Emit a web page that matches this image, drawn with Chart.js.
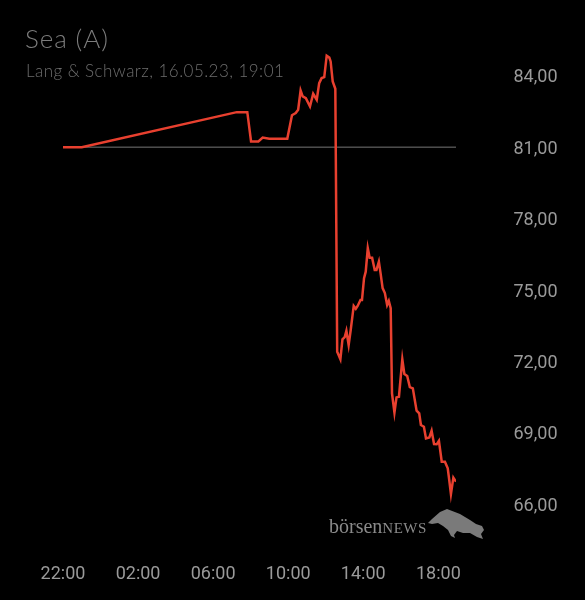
<!DOCTYPE html>
<html><head><meta charset="utf-8">
<script src="https://cdn.jsdelivr.net/npm/chart.js@4"></script>
<style>
html,body{margin:0;padding:0;background:#000;}
#wrap{position:relative;width:585px;height:600px;background:#000;overflow:hidden;}
canvas{position:absolute;left:0;top:0;}
.t{position:absolute;white-space:nowrap;line-height:1;}
#title{left:25px;top:25px;font-family:Lato;font-weight:300;font-size:26px;letter-spacing:0.9px;color:#7c7c7c;}
#sub{left:26px;top:62px;font-family:Lato;font-weight:300;font-size:17px;letter-spacing:0.45px;color:#6c6c6c;}
#logo{left:329px;top:516px;font-family:"Liberation Serif";font-size:20px;color:#8a8a8a;}
#logo span{font-size:15px;letter-spacing:0.5px;}
#bull{position:absolute;left:0;top:0;}
</style></head>
<body><div id="wrap">
<canvas id="c" width="585" height="600"></canvas>
<div class="t" id="title">Sea (A)</div>
<div class="t" id="sub">Lang &amp; Schwarz, 16.05.23, 19:01</div>
<div class="t" id="logo">börsen<span>NEWS</span></div>
<svg id="bull" width="585" height="600"><polygon fill="#7a7a7a" points="428,523 432,519 440,512 447,509 460,514 470,520 476,524 482,526 484,530 481,534 483,539 477,537 470,533 463,533 457,531 454,535 455,538 451,536 448,530 443,526 438,523 432,524"/></svg>
</div>
<script>
// hours since 22:00 of the previous day
const hours = [0, 1.0, 9.26, 9.82, 10.02, 10.41, 10.64, 10.99, 11.95, 12.20, 12.40, 12.53, 12.66, 12.77, 12.94, 13.16, 13.33, 13.52, 13.65, 13.78, 13.92, 14.05, 14.19, 14.26, 14.37, 14.51, 14.61, 14.78, 14.89, 15.01, 15.10, 15.22, 15.33, 15.49, 15.60, 15.70, 15.85, 15.93, 16.04, 16.13, 16.24, 16.34, 16.47, 16.61, 16.70, 16.83, 16.92, 17.03, 17.15, 17.27, 17.36, 17.46, 17.53, 17.66, 17.77, 17.90, 18.08, 18.19, 18.34, 18.48, 18.64, 18.84, 18.98, 19.07, 19.23, 19.34, 19.52, 19.64, 19.77, 19.91, 20.03, 20.18, 20.35, 20.50, 20.58, 20.67, 20.80, 20.94];
const prices = [81.0, 81.0, 82.47, 82.47, 81.24, 81.24, 81.40, 81.35, 81.35, 82.34, 82.43, 82.57, 83.38, 83.13, 83.06, 82.71, 83.24, 82.99, 83.69, 83.90, 83.94, 84.84, 84.76, 84.60, 83.76, 83.45, 72.41, 72.09, 72.93, 73.02, 73.29, 72.69, 73.32, 74.33, 74.21, 74.33, 74.58, 74.58, 75.50, 75.77, 76.76, 76.36, 76.36, 75.84, 75.84, 76.19, 75.71, 75.08, 74.87, 74.37, 74.54, 74.24, 70.66, 69.85, 70.49, 70.52, 72.09, 71.47, 71.39, 70.92, 70.87, 69.93, 69.82, 69.33, 69.26, 68.77, 68.81, 69.09, 68.53, 68.52, 68.67, 67.79, 67.79, 67.51, 67.02, 66.43, 67.12, 66.95];
const prevClose = 81.0;
const xTickValues = [0, 4, 8, 12, 16, 20];
const xTickLabels = ['22:00', '02:00', '06:00', '10:00', '14:00', '18:00'];
const yTickValues = [66, 69, 72, 75, 78, 81, 84];

const lastHour = hours[hours.length - 1];
new Chart(document.getElementById('c'), {
  type: 'line',
  data: {
    datasets: [
      { data: hours.map((h, i) => ({ x: h, y: prices[i] })), borderColor: '#e8402f', borderWidth: 2.5, pointRadius: 0, tension: 0 },
      { data: [{ x: hours[0], y: prevClose }, { x: lastHour, y: prevClose }], borderColor: '#777777', borderWidth: 1, pointRadius: 0 }
    ]
  },
  options: {
    responsive: false, animation: false,
    layout: { padding: { left: 63, right: 0, top: 40, bottom: 0 } },
    plugins: { legend: { display: false }, tooltip: { enabled: false } },
    scales: {
      x: {
        type: 'linear', min: 0, max: lastHour,
        grid: { display: false }, border: { display: false },
        afterBuildTicks: s => { s.ticks = xTickValues.map(v => ({ value: v })); },
        afterFit: s => { s.height = 69.5; s.paddingLeft = 0; s.paddingRight = 0; },
        ticks: {
          autoSkip: false, maxRotation: 0, padding: 25, color: '#9a9a9a',
          font: { family: 'Roboto', size: 18 },
          callback: v => xTickLabels[xTickValues.indexOf(v)]
        }
      },
      y: {
        position: 'right', min: 64.9, max: 85.5,
        grid: { display: false }, border: { display: false },
        afterBuildTicks: s => { s.ticks = yTickValues.map(v => ({ value: v })); },
        afterFit: s => { s.width = 129; s.paddingTop = 0; s.paddingBottom = 0; },
        ticks: {
          crossAlign: 'center', padding: 49.5, labelOffset: 2, color: '#9a9a9a',
          font: { family: 'Roboto', size: 18 },
          callback: v => v.toFixed(2).replace('.', ',')
        }
      }
    }
  }
});
</script>
</body></html>
